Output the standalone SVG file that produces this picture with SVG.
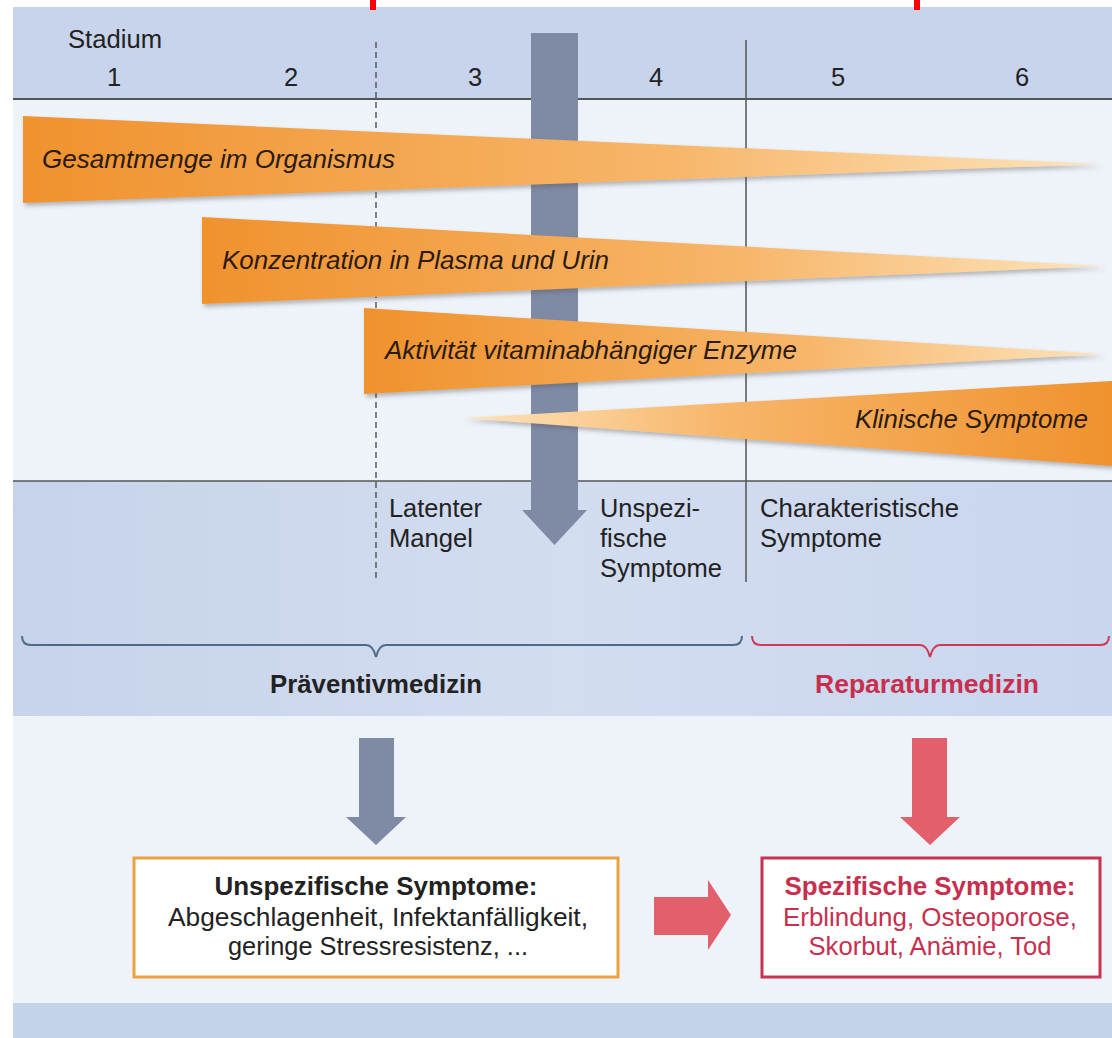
<svg xmlns="http://www.w3.org/2000/svg" width="1112" height="1038" viewBox="0 0 1112 1038">
<style>
text{font-family:"Liberation Sans",Arial,Helvetica,sans-serif;fill:#222;}
.h{font-size:25.5px;}
.w{font-size:25.5px;font-style:italic;fill:#2a1a10;}
.b{font-weight:bold;}
.red{fill:#c72f4e;}
.ga{fill:#7f8aa5;}
.ra{fill:#e2606b;}
</style>
<defs>
<linearGradient id="gw" x1="0" y1="0" x2="1" y2="0">
<stop offset="0" stop-color="#f0922e"/>
<stop offset="0.6" stop-color="#f7b66a"/>
<stop offset="1" stop-color="#fde4bd"/>
</linearGradient>
<linearGradient id="gw4" x1="1" y1="0" x2="0" y2="0">
<stop offset="0" stop-color="#f0922e"/>
<stop offset="0.6" stop-color="#f7b66a"/>
<stop offset="1" stop-color="#fde4bd"/>
</linearGradient>
<linearGradient id="band" x1="0" y1="0" x2="1" y2="0">
<stop offset="0" stop-color="#c6d3ea"/>
<stop offset="0.5" stop-color="#d3ddf0"/>
<stop offset="1" stop-color="#c9d6ee"/>
</linearGradient>
<filter id="sh" x="-5%" y="-30%" width="110%" height="170%">
<feDropShadow dx="2" dy="3" stdDeviation="2" flood-color="#555" flood-opacity="0.4"/>
</filter>
</defs>

<rect x="0" y="0" width="1112" height="1038" fill="#ffffff"/>
<g id="background">
<rect x="13" y="7" width="1099" height="1031" fill="url(#band)"/>
<rect x="13" y="7" width="1099" height="93" fill="#c7d4ec"/>
<rect x="13" y="100" width="1099" height="381" fill="#eef2f9"/>
<rect x="13" y="716" width="1099" height="287" fill="#eef2f9"/>
<rect x="13" y="1003" width="1099" height="35" fill="#c4d2ea"/>
<rect x="370" y="0" width="6" height="10" fill="#ff0000"/>
<rect x="914" y="0" width="6" height="10" fill="#ff0000"/>
</g>

<g id="axis">
<line x1="13" y1="99" x2="1112" y2="99" stroke="#555" stroke-width="2"/>
<line x1="13" y1="481" x2="1112" y2="481" stroke="#555" stroke-width="1.5"/>
<line x1="376" y1="42" x2="376" y2="580" stroke="#444" stroke-width="1.3" stroke-dasharray="6,4"/>
<line x1="746" y1="40" x2="746" y2="582" stroke="#555" stroke-width="1.5"/>
<text class="h" x="68" y="48" textLength="94" lengthAdjust="spacingAndGlyphs">Stadium</text>
<text class="h" x="114" y="86" text-anchor="middle">1</text>
<text class="h" x="291" y="86" text-anchor="middle">2</text>
<text class="h" x="475" y="86" text-anchor="middle">3</text>
<text class="h" x="656" y="86" text-anchor="middle">4</text>
<text class="h" x="838" y="86" text-anchor="middle">5</text>
<text class="h" x="1022" y="86" text-anchor="middle">6</text>
</g>

<g id="connectors">
<polygon id="arrow-main" class="ga" points="531,33 578,33 578,510 587,510 554.5,545 522,510 531,510"/>
<polygon id="arrow-prev" class="ga" points="359,738 394,738 394,817 406,817 376,845 346,817 359,817"/>
<polygon id="arrow-rep" class="ra" points="912,738 947,738 947,817 960,817 930,845 900,817 912,817"/>
<polygon id="arrow-right" class="ra" points="654,897 708,897 708,880 731,915 708,950 708,935 654,935"/>
</g>

<g id="wedge-gesamtmenge">
<polygon points="23,116 1102,164 23,203" fill="url(#gw)" filter="url(#sh)"/>
<text class="w" x="42" y="168" textLength="353" lengthAdjust="spacingAndGlyphs">Gesamtmenge im Organismus</text>
</g>
<g id="wedge-konzentration">
<polygon points="202,217 1104,266 202,304" fill="url(#gw)" filter="url(#sh)"/>
<text class="w" x="222" y="269" textLength="387" lengthAdjust="spacingAndGlyphs">Konzentration in Plasma und Urin</text>
</g>
<g id="wedge-aktivitaet">
<polygon points="364,308 1104,354 364,394" fill="url(#gw)" filter="url(#sh)"/>
<text class="w" x="385" y="359" textLength="412" lengthAdjust="spacingAndGlyphs">Aktivität vitaminabhängiger Enzyme</text>
</g>
<g id="wedge-klinisch">
<polygon points="463,418 1112,381 1112,466" fill="url(#gw4)" filter="url(#sh)"/>
<text class="w" x="855" y="428" textLength="233" lengthAdjust="spacingAndGlyphs">Klinische Symptome</text>
</g>

<g id="phase-labels">
<text class="h" x="389" y="517" textLength="93" lengthAdjust="spacingAndGlyphs">Latenter</text>
<text class="h" x="389" y="547" textLength="84" lengthAdjust="spacingAndGlyphs">Mangel</text>
<text class="h" x="600" y="517" textLength="100" lengthAdjust="spacingAndGlyphs">Unspezi-</text>
<text class="h" x="600" y="547" textLength="67" lengthAdjust="spacingAndGlyphs">fische</text>
<text class="h" x="600" y="577" textLength="122" lengthAdjust="spacingAndGlyphs">Symptome</text>
<text class="h" x="760" y="517" textLength="199" lengthAdjust="spacingAndGlyphs">Charakteristische</text>
<text class="h" x="760" y="547" textLength="122" lengthAdjust="spacingAndGlyphs">Symptome</text>
</g>

<g id="brace-praevention">
<path d="M22,636 Q22,645 31,645 L366,645 Q373,645 376,657 Q379,645 386,645 L733,645 Q742,645 742,636" fill="none" stroke="#4d6a87" stroke-width="2"/>
<text class="h b" x="376" y="693" text-anchor="middle" textLength="212" lengthAdjust="spacingAndGlyphs">Präventivmedizin</text>
</g>
<g id="brace-reparatur">
<path d="M752,636 Q752,645 761,645 L920,645 Q927,645 930,657 Q933,645 940,645 L1100,645 Q1109,645 1109,636" fill="none" stroke="#cc3a55" stroke-width="2"/>
<text class="h b red" x="927" y="693" text-anchor="middle" textLength="224" lengthAdjust="spacingAndGlyphs">Reparaturmedizin</text>
</g>

<g id="box-unspezifisch">
<rect x="134" y="858" width="484" height="119" fill="#ffffff" stroke="#e9a23d" stroke-width="3"/>
<text class="h b" x="376" y="895" text-anchor="middle" textLength="323" lengthAdjust="spacingAndGlyphs">Unspezifische Symptome:</text>
<text class="h" x="378" y="926" text-anchor="middle" textLength="420" lengthAdjust="spacingAndGlyphs">Abgeschlagenheit, Infektanfälligkeit,</text>
<text class="h" x="378" y="955" text-anchor="middle" textLength="300" lengthAdjust="spacingAndGlyphs">geringe Stressresistenz, ...</text>
</g>
<g id="box-spezifisch">
<rect x="762" y="858" width="338" height="119" fill="#ffffff" stroke="#c8344f" stroke-width="3"/>
<text class="h b red" x="930" y="895" text-anchor="middle" textLength="291" lengthAdjust="spacingAndGlyphs">Spezifische Symptome:</text>
<text class="h red" x="930" y="926" text-anchor="middle" textLength="294" lengthAdjust="spacingAndGlyphs">Erblindung, Osteoporose,</text>
<text class="h red" x="930" y="955" text-anchor="middle" textLength="243" lengthAdjust="spacingAndGlyphs">Skorbut, Anämie, Tod</text>
</g>
</svg>
